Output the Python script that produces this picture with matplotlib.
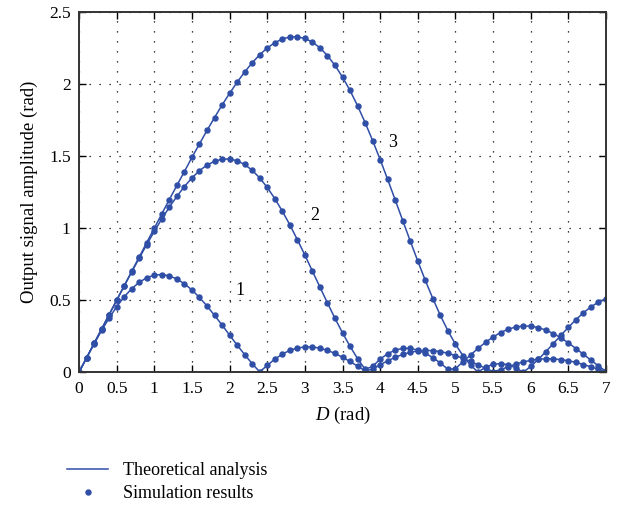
import numpy as np
import matplotlib
matplotlib.use("Agg")
import matplotlib.pyplot as plt
from matplotlib.lines import Line2D

plt.rcParams["font.family"] = ["Liberation Serif", "DejaVu Serif"]
plt.rcParams["mathtext.fontset"] = "custom"
plt.rcParams["mathtext.it"] = "Liberation Serif:italic"

# D from 0 to 7 rad, step 0.1
D = np.round(np.arange(0, 71) * 0.1, 1)

curve1 = [0.000, 0.100, 0.197, 0.290, 0.376, 0.455, 0.523, 0.580, 0.624, 0.656,
          0.674, 0.678, 0.669, 0.647, 0.614, 0.571, 0.519, 0.460, 0.395, 0.328,
          0.258, 0.189, 0.123, 0.060, 0.003, 0.048, 0.091, 0.126, 0.152, 0.168,
          0.176, 0.176, 0.167, 0.152, 0.131, 0.104, 0.075, 0.043, 0.010, 0.022,
          0.052, 0.080, 0.104, 0.124, 0.139, 0.148, 0.152, 0.150, 0.144, 0.132,
          0.116, 0.097, 0.076, 0.052, 0.028, 0.005, 0.018, 0.039, 0.057, 0.072,
          0.083, 0.091, 0.094, 0.093, 0.088, 0.080, 0.069, 0.054, 0.038, 0.021,
          0.003]

curve2 = [0.000, 0.100, 0.200, 0.300, 0.400, 0.499, 0.598, 0.696, 0.792, 0.886,
          0.977, 1.064, 1.145, 1.220, 1.288, 1.348, 1.398, 1.437, 1.463, 1.478,
          1.479, 1.467, 1.441, 1.401, 1.348, 1.282, 1.205, 1.118, 1.023, 0.920,
          0.813, 0.702, 0.591, 0.481, 0.374, 0.274, 0.180, 0.095, 0.021, 0.041,
          0.092, 0.129, 0.154, 0.166, 0.166, 0.154, 0.132, 0.102, 0.064, 0.021,
          0.025, 0.073, 0.120, 0.166, 0.208, 0.245, 0.276, 0.299, 0.314, 0.321,
          0.320, 0.310, 0.293, 0.269, 0.239, 0.204, 0.165, 0.125, 0.084, 0.044,
          0.006]

curve3 = [0.000, 0.100, 0.200, 0.300, 0.400, 0.500, 0.600, 0.700, 0.800, 0.900,
          0.999, 1.099, 1.198, 1.296, 1.392, 1.490, 1.584, 1.677, 1.766, 1.853,
          1.934, 2.011, 2.082, 2.146, 2.202, 2.249, 2.285, 2.311, 2.325, 2.326,
          2.315, 2.290, 2.250, 2.196, 2.128, 2.047, 1.954, 1.848, 1.732, 1.607,
          1.475, 1.337, 1.195, 1.052, 0.910, 0.771, 0.637, 0.511, 0.394, 0.288,
          0.195, 0.115, 0.050, 0.001, 0.036, 0.055, 0.061, 0.052, 0.032, 0.000,
          0.041, 0.089, 0.143, 0.199, 0.256, 0.312, 0.365, 0.413, 0.454, 0.487,
          0.510]

curve_labels = ["1", "2", "3"]
label_pos = [(2.14, 0.57), (3.13, 1.09), (4.16, 1.59)]

blue = "#2f4ea6"

fig = plt.figure(figsize=(6.28, 5.11), dpi=100)
ax = fig.add_axes([0.1258, 0.2714, 0.8392, 0.7056])

for y in [curve1, curve2, curve3]:
    ax.plot(D, y, color=blue, lw=1.1, marker="o", ms=3.6, mec=blue, mfc=blue)

for lab, (px, py) in zip(curve_labels, label_pos):
    ax.text(px, py, lab, fontsize=13, ha="center", va="center")

ax.set_xlim(0, 7)
ax.set_ylim(0, 2.5)
ax.set_xticks(np.arange(0, 7.01, 0.5))
ax.set_xticklabels(["0", "0.5", "1", "1.5", "2", "2.5", "3", "3.5", "4",
                    "4.5", "5", "5.5", "6", "6.5", "7"])
ax.set_yticks([0, 0.5, 1, 1.5, 2, 2.5])
ax.set_yticklabels(["0", "0.5", "1", "1.5", "2", "2.5"])
ax.tick_params(direction="in", top=True, right=True, length=5, width=1,
               labelsize=12.5, pad=6)
ax.grid(True, color="black", linestyle=(0, (1, 7)), linewidth=0.9)
for s in ax.spines.values():
    s.set_linewidth(1.4)
    s.set_color("#333333")

ax.set_xlabel("$D$ (rad)", fontsize=13.5, labelpad=6)
ax.set_ylabel("Output signal amplitude (rad)", fontsize=13.5, labelpad=8)

handles = [Line2D([], [], color=blue, lw=1.1),
           Line2D([], [], color=blue, lw=0, marker="o", ms=3.6)]
fig.legend(handles, ["Theoretical analysis", "Simulation results"],
           loc="upper left", bbox_to_anchor=(0.095, 0.11), frameon=False,
           fontsize=13, handlelength=2.3, labelspacing=0.35, borderaxespad=0)

fig.savefig("out.png", dpi=100)
